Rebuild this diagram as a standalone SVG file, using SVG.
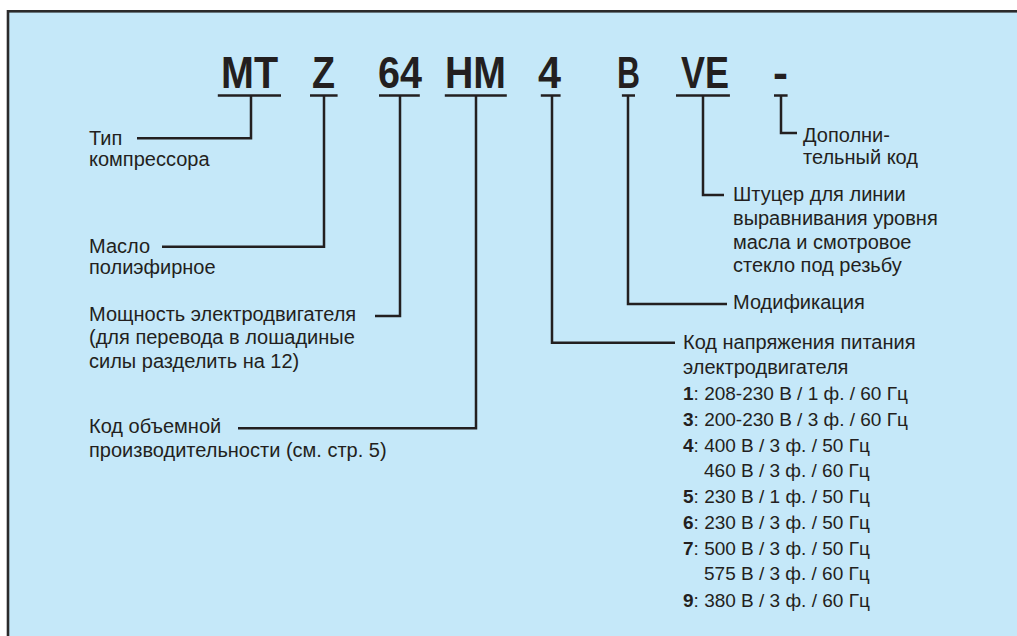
<svg xmlns="http://www.w3.org/2000/svg" width="1017" height="636" viewBox="0 0 1017 636">
<style>
.big{font-family:"Liberation Sans",Arial,sans-serif;font-weight:bold;font-size:44px;fill:#231f20}
.t{font-family:"Liberation Sans",Arial,sans-serif;font-size:20px;fill:#231f20}
.v{font-size:19px}
.b{font-weight:bold}
.ln{fill:none;stroke:#231f20;stroke-width:2.5}
</style>
<rect x="0" y="0" width="1017" height="636" fill="#ffffff"/>
<rect x="8" y="11.3" width="1030" height="650" fill="#c5e8f9" stroke="#2b2a2b" stroke-width="2.6"/>
<g id="code">
<text class="big" x="221" y="87.5" textLength="57" lengthAdjust="spacingAndGlyphs">MT</text>
<text class="big" x="312" y="87.5" textLength="23" lengthAdjust="spacingAndGlyphs">Z</text>
<text class="big" x="378" y="87.5" textLength="44" lengthAdjust="spacingAndGlyphs">64</text>
<text class="big" x="445" y="87.5" textLength="61" lengthAdjust="spacingAndGlyphs">HM</text>
<text class="big" x="538" y="87.5" textLength="23" lengthAdjust="spacingAndGlyphs">4</text>
<text class="big" x="617" y="87.5" textLength="23" lengthAdjust="spacingAndGlyphs">B</text>
<text class="big" x="681" y="87.5" textLength="48" lengthAdjust="spacingAndGlyphs">VE</text>
<text class="big" x="773" y="87.5" textLength="15" lengthAdjust="spacingAndGlyphs">-</text>
</g>
<g id="connectors">
<path class="ln" d="M217.8,95.4H281M310,95.4H337.6M379,95.4H419.8M444.8,95.4H506.8M540.8,95.4H560.6M621.9,95.4H635M676,95.4H729.9M774,95.4H787.6"/>
<path class="ln" d="M137,138.3H251V95.4"/>
<path class="ln" d="M162,246.7H324V95.4"/>
<path class="ln" d="M375,316H400V95.4"/>
<path class="ln" d="M238,428.3H476V95.4"/>
<path class="ln" d="M552,95.4V342.7H675"/>
<path class="ln" d="M628,95.4V304H727"/>
<path class="ln" d="M703,95.4V195H724"/>
<path class="ln" d="M781,95.4V133H797"/>
</g>
<g id="type">
<text class="t" x="89" y="145">Тип</text>
<text class="t" x="89" y="166">компрессора</text>
</g>
<g id="oil">
<text class="t" x="89" y="253">Масло</text>
<text class="t" x="89" y="274">полиэфирное</text>
</g>
<g id="power">
<text class="t" x="89" y="320.5">Мощность электродвигателя</text>
<text class="t" x="89" y="344.3">(для перевода в лошадиные</text>
<text class="t" x="89" y="367.8">силы разделить на 12)</text>
</g>
<g id="displacement">
<text class="t" x="89" y="433">Код объемной</text>
<text class="t" x="89" y="457">производительности (см. стр. 5)</text>
</g>
<g id="extra">
<text class="t" x="803" y="141.5">Дополни-</text>
<text class="t" x="803" y="163.5">тельный код</text>
</g>
<g id="fitting">
<text class="t" x="733" y="201">Штуцер для линии</text>
<text class="t" x="733" y="225">выравнивания уровня</text>
<text class="t" x="733" y="248.5">масла и смотровое</text>
<text class="t" x="733" y="272">стекло под резьбу</text>
</g>
<g id="modification">
<text class="t" x="733" y="309">Модификация</text>
</g>
<g id="voltage">
<text class="t" x="683" y="348.5">Код напряжения питания</text>
<text class="t" x="683" y="374.3">электродвигателя</text>
<text class="t v" x="683" y="400"><tspan class="b">1</tspan>: 208-230 В / 1 ф. / 60 Гц</text>
<text class="t v" x="683" y="425.8"><tspan class="b">3</tspan>: 200-230 В / 3 ф. / 60 Гц</text>
<text class="t v" x="683" y="451.5"><tspan class="b">4</tspan>: 400 В / 3 ф. / 50 Гц</text>
<text class="t v" x="704" y="477.3">460 В / 3 ф. / 60 Гц</text>
<text class="t v" x="683" y="503"><tspan class="b">5</tspan>: 230 В / 1 ф. / 50 Гц</text>
<text class="t v" x="683" y="528.8"><tspan class="b">6</tspan>: 230 В / 3 ф. / 50 Гц</text>
<text class="t v" x="683" y="554.5"><tspan class="b">7</tspan>: 500 В / 3 ф. / 50 Гц</text>
<text class="t v" x="704" y="580.3">575 В / 3 ф. / 60 Гц</text>
<text class="t v" x="683" y="606.5"><tspan class="b">9</tspan>: 380 В / 3 ф. / 60 Гц</text>
</g>
</svg>
